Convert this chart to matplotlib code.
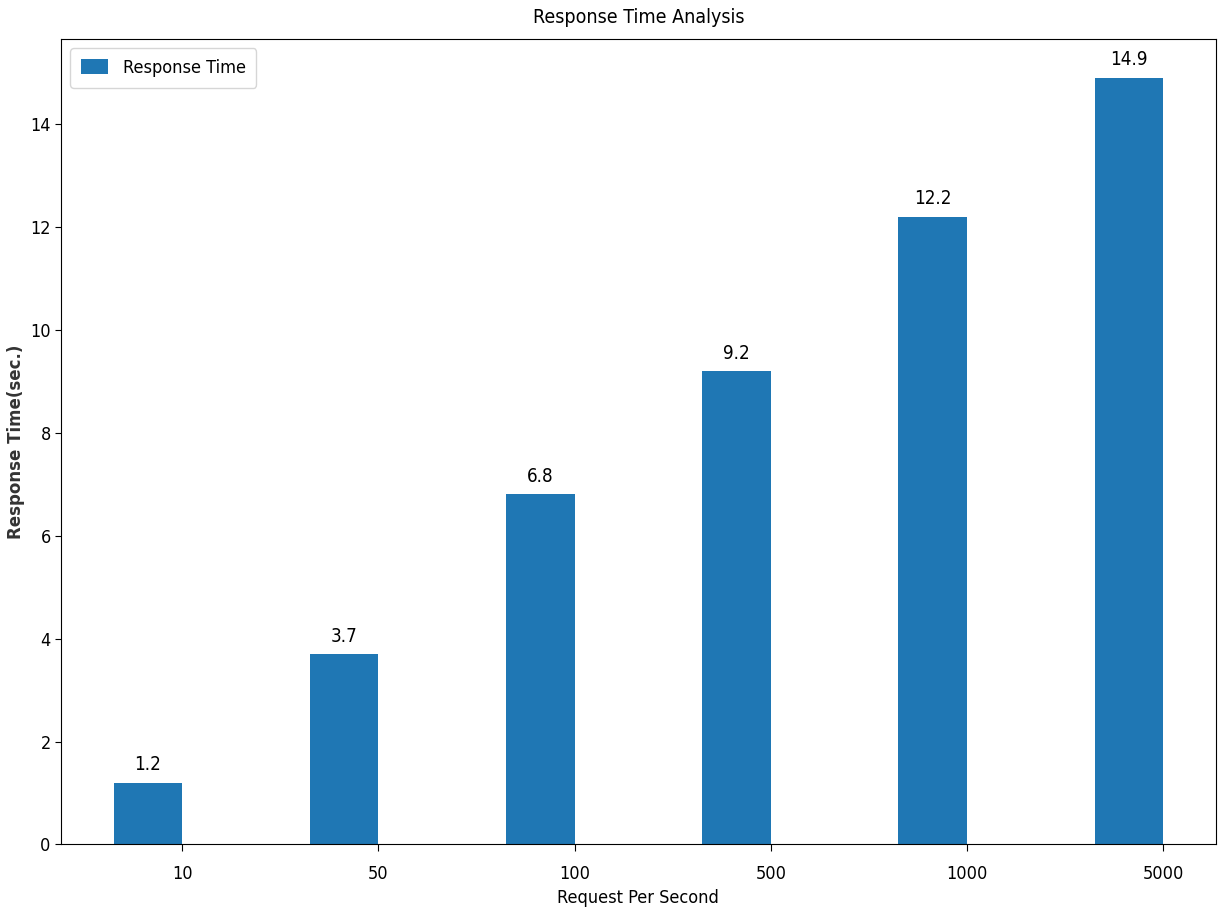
import numpy as np
import matplotlib
matplotlib.use("Agg")
import matplotlib.pyplot as plt

requests = ['10', '50', '100', '500', '1000', '5000']
response_time = [1.2, 3.7, 6.8, 9.2, 12.2, 14.9]

plt.rcParams['font.family'] = ['DejaVu Sans']
plt.rcParams['font.stretch'] = 'condensed'
plt.rcParams['font.size'] = 13

x = np.arange(len(requests))
width = 0.35

fig, ax = plt.subplots(figsize=(12.23, 9.11), dpi=100)
bars = ax.bar(x - width / 2, response_time, width, color='#1f77b4', label='Response Time')

# value labels above each bar
for rect in bars:
    h = rect.get_height()
    ax.annotate(f'{h}', xy=(rect.get_x() + rect.get_width() / 2, h),
                xytext=(0, 6), textcoords='offset points',
                ha='center', va='bottom', fontsize=13.5)

ax.set_xticks(x)
ax.set_xticklabels(requests)
ax.tick_params(axis='x', pad=10, length=5)
ax.tick_params(axis='y', length=4)
ax.set_xlabel('Request Per Second', fontsize=13)
ax.set_ylabel('Response Time(sec.)', fontsize=12, fontstretch='normal',
              color='#333333', fontweight='semibold')
ax.set_title('Response Time Analysis', fontsize=14, pad=12)
ax.legend(loc='upper left', handlelength=1.5, handleheight=0.9, borderpad=0.6)

fig.subplots_adjust(left=0.05, right=0.994, top=0.957, bottom=0.073)
fig.savefig('out.png', dpi=100)
